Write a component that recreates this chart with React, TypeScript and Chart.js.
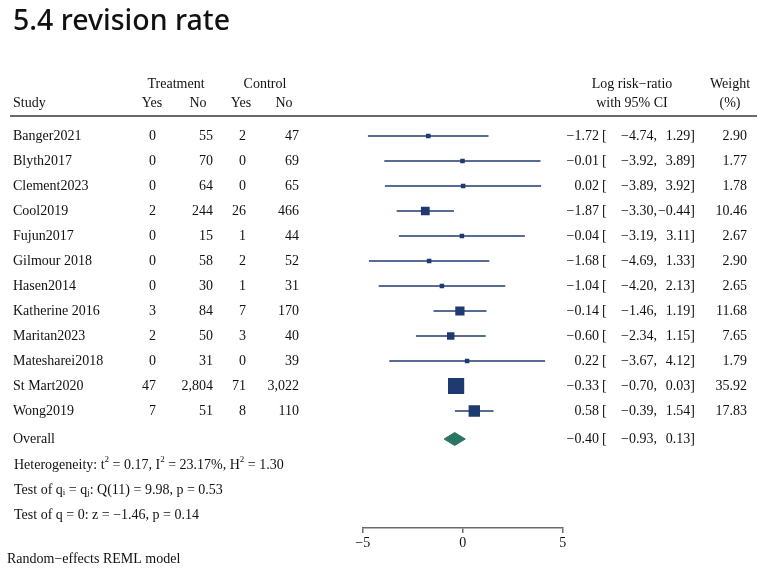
import { useEffect, useRef } from "react";
import { Chart, registerables } from "chart.js";

Chart.register(...registerables);

// Study-level data for the revision-rate meta-analysis
const studies = [
  "Banger2021",
  "Blyth2017",
  "Clement2023",
  "Cool2019",
  "Fujun2017",
  "Gilmour 2018",
  "Hasen2014",
  "Katherine 2016",
  "Maritan2023",
  "Matesharei2018",
  "St Mart2020",
  "Wong2019",
];
const treatYes = [0, 0, 0, 2, 0, 0, 0, 3, 2, 0, 47, 7];
const treatNo = [55, 70, 64, 244, 15, 58, 30, 84, 50, 31, 2804, 51];
const ctrlYes = [2, 0, 0, 26, 1, 2, 1, 7, 3, 0, 71, 8];
const ctrlNo = [47, 69, 65, 466, 44, 52, 31, 170, 40, 39, 3022, 110];
const logRR = [-1.72, -0.01, 0.02, -1.87, -0.04, -1.68, -1.04, -0.14, -0.6, 0.22, -0.33, 0.58];
const ciLow = [-4.74, -3.92, -3.89, -3.3, -3.19, -4.69, -4.2, -1.46, -2.34, -3.67, -0.7, -0.39];
const ciHigh = [1.29, 3.89, 3.92, -0.44, 3.11, 1.33, 2.13, 1.19, 1.15, 4.12, 0.03, 1.54];
const weights = [2.9, 1.77, 1.78, 10.46, 2.67, 2.9, 2.65, 11.68, 7.65, 1.79, 35.92, 17.83];
const overallEst = -0.4;
const overallLow = -0.93;
const overallHigh = 0.13;
const xTicks = [-5, 0, 5];

const NAVY = "#1f3a70";
const TEAL = "#2a7563";
const SERIF = '"Liberation Serif", "Times New Roman", serif';
const OVERALL_ROW = studies.length + 0.12;
const DIAMOND_HALF = 0.26;
const TITLE = "5.4 revision rate";

const fmtNum = (v: number) => v.toLocaleString("en-US");
const fmtDec = (v: number) => (v < 0 ? "\u2212" : "") + Math.abs(v).toFixed(2);

type Seg = { t: string; sup?: boolean; sub?: boolean };

function drawRich(ctx: CanvasRenderingContext2D, segs: Seg[], x: number, y: number, size: number) {
  let cx = x;
  for (const s of segs) {
    const small = s.sup || s.sub;
    ctx.font = `${small ? Math.round(size * 0.62) : size}px ${SERIF}`;
    const dy = s.sup ? -size * 0.38 : s.sub ? size * 0.22 : 0;
    ctx.fillText(s.t, cx, y + dy);
    cx += ctx.measureText(s.t).width;
  }
}

const textPlugin = {
  id: "forestText",
  afterDraw(chart: any) {
    const ctx: CanvasRenderingContext2D = chart.ctx;
    const yScale = chart.scales.y;
    const FS = 14;
    ctx.save();
    ctx.fillStyle = "#111";

    // Title
    ctx.save();
    ctx.textBaseline = "alphabetic";
    ctx.textAlign = "left";
    ctx.font = `500 29px "Noto Sans", sans-serif`;
    const tw = ctx.measureText(TITLE).width;
    const sx = Math.min(1.05, Math.max(0.95, 217 / tw));
    ctx.translate(13, 29.5);
    ctx.scale(sx, 1);
    ctx.fillText(TITLE, 0, 0);
    ctx.restore();

    ctx.font = `${FS}px ${SERIF}`;
    ctx.textBaseline = "middle";

    const put = (t: string, x: number, y: number, align: CanvasTextAlign) => {
      ctx.textAlign = align;
      ctx.fillText(t, x, y);
    };

    // Column headers
    put("Treatment", 176, 84, "center");
    put("Control", 265, 84, "center");
    put("Log risk\u2212ratio", 632, 84, "center");
    put("Weight", 730, 84, "center");
    put("Study", 13, 103, "left");
    put("Yes", 152, 103, "center");
    put("No", 198, 103, "center");
    put("Yes", 241, 103, "center");
    put("No", 284, 103, "center");
    put("with 95% CI", 632, 103, "center");
    put("(%)", 730, 103, "center");

    ctx.strokeStyle = "#6a6a6a";
    ctx.lineWidth = 2;
    ctx.beginPath();
    ctx.moveTo(10, 116);
    ctx.lineTo(757, 116);
    ctx.stroke();

    const estText = (y: number, est: number, lo: number, hi: number) => {
      put(fmtDec(est), 599, y, "right");
      put("[", 602, y, "left");
      put(fmtDec(lo) + ",", 657, y, "right");
      put(fmtDec(hi) + "]", 695, y, "right");
    };

    studies.forEach((name, i) => {
      const y = yScale.getPixelForValue(i);
      put(name, 13, y, "left");
      put(fmtNum(treatYes[i]), 156, y, "right");
      put(fmtNum(treatNo[i]), 213, y, "right");
      put(fmtNum(ctrlYes[i]), 246, y, "right");
      put(fmtNum(ctrlNo[i]), 299, y, "right");
      estText(y, logRR[i], ciLow[i], ciHigh[i]);
      put(weights[i].toFixed(2), 747, y, "right");
    });

    const yo = yScale.getPixelForValue(OVERALL_ROW);
    put("Overall", 13, yo, "left");
    estText(yo, overallEst, overallLow, overallHigh);

    ctx.textAlign = "left";
    drawRich(
      ctx,
      [
        { t: "Heterogeneity: t" },
        { t: "2", sup: true },
        { t: " = 0.17, I" },
        { t: "2", sup: true },
        { t: " = 23.17%, H" },
        { t: "2", sup: true },
        { t: " = 1.30" },
      ],
      14,
      465,
      FS
    );
    drawRich(
      ctx,
      [
        { t: "Test of q" },
        { t: "i", sub: true },
        { t: " = q" },
        { t: "j", sub: true },
        { t: ": Q(11) = 9.98, p = 0.53" },
      ],
      14,
      490,
      FS
    );
    drawRich(ctx, [{ t: "Test of q = 0: z = \u22121.46, p = 0.14" }], 14, 515, FS);
    drawRich(ctx, [{ t: "Random\u2212effects REML model" }], 7, 559, FS);

    ctx.restore();
  },
};

export default function App() {
  const canvasRef = useRef<HTMLCanvasElement | null>(null);

  useEffect(() => {
    const canvas = canvasRef.current;
    if (!canvas) return;

    const ciSets = studies.map((_, i) => ({
      data: [
        { x: ciLow[i], y: i },
        { x: ciHigh[i], y: i },
      ],
      showLine: true,
      borderColor: NAVY,
      borderWidth: 1.3,
      pointRadius: 0,
      fill: false,
    }));

    const squareSet = {
      data: studies.map((_, i) => ({ x: logRR[i], y: i })),
      showLine: false,
      pointStyle: "rect",
      pointRadius: weights.map((w) => Math.max(2.7 * Math.sqrt(w), 4.5) / Math.SQRT2),
      backgroundColor: NAVY,
      borderColor: NAVY,
      borderWidth: 0,
    };

    const diamondSet = {
      data: [
        { x: overallLow, y: OVERALL_ROW },
        { x: overallEst, y: OVERALL_ROW - DIAMOND_HALF },
        { x: overallHigh, y: OVERALL_ROW },
        { x: overallEst, y: OVERALL_ROW + DIAMOND_HALF },
        { x: overallLow, y: OVERALL_ROW },
      ],
      showLine: true,
      fill: "shape",
      backgroundColor: TEAL,
      borderColor: TEAL,
      borderWidth: 1,
      pointRadius: 0,
      tension: 0,
    };

    const chart = new Chart(canvas, {
      type: "line",
      data: { datasets: [...ciSets, squareSet, diamondSet] as any },
      options: {
        animation: false,
        responsive: false,
        events: [],
        layout: { padding: { left: 362.7, right: 199.3, top: 120, bottom: 0 } },
        plugins: { legend: { display: false }, tooltip: { enabled: false } },
        scales: {
          x: {
            type: "linear",
            min: -5,
            max: 5,
            afterBuildTicks: (scale: any) => {
              scale.ticks = xTicks.map((v) => ({ value: v }));
            },
            afterFit: (scale: any) => {
              scale.height = 55;
            },
            grid: { drawOnChartArea: false, drawTicks: true, tickLength: 5, color: "#6a6a6a", lineWidth: 1.5 },
            border: { display: true, color: "#6a6a6a", width: 1.5 },
            ticks: {
              padding: 2,
              color: "#111",
              font: { family: SERIF, size: 14 },
              callback: (v: any) => (Number(v) < 0 ? "\u2212" + Math.abs(Number(v)) : String(v)),
            },
          },
          y: {
            type: "linear",
            display: false,
            reverse: true,
            min: -0.64,
            max: 15.68,
          },
        },
      },
      plugins: [textPlugin],
    });

    return () => chart.destroy();
  }, []);

  return (
    <div style={{ position: "fixed", left: 0, top: 0, width: 762, height: 583, background: "#fff" }}>
      <canvas ref={canvasRef} width={762} height={583} style={{ display: "block", width: 762, height: 583 }} />
    </div>
  );
}
